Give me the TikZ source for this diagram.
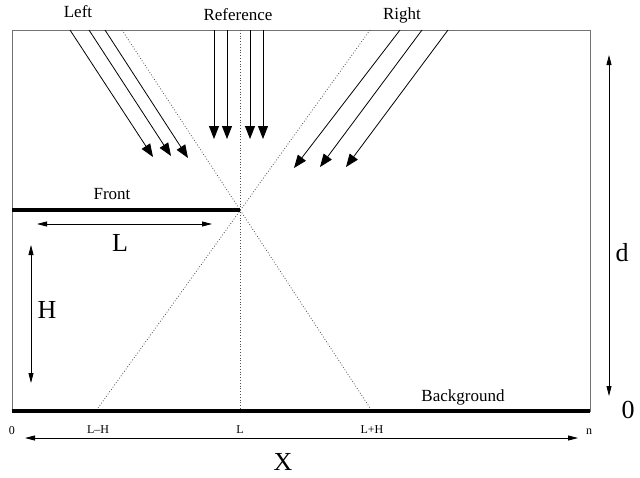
\documentclass[tikz,border=0pt]{standalone}
\usepackage{fontspec}
\setmainfont{Liberation Serif}
\usetikzlibrary{arrows.meta}
\begin{document}
\begin{tikzpicture}[x=1pt, y=-1pt,
                    ray/.style={-{Triangle[length=13pt,width=10pt]}, line width=0.8pt},
                    dim/.style={{Triangle[length=10pt,width=5pt]}-{Triangle[length=10pt,width=5pt]}, line width=0.8pt},
                    wall/.style={line width=4pt},
                    guide/.style={dotted, line width=0.8pt, black!70},
                    lbl/.style={inner sep=0pt, font=\fontsize{17}{20}\selectfont},
                    big/.style={inner sep=0pt, font=\fontsize{26}{30}\selectfont},
                    tick/.style={inner sep=0pt, font=\fontsize{12}{14}\selectfont}]
\useasboundingbox (0,0) rectangle (640,477);
\draw[black!55, line width=1pt] (12,30) rectangle (590,411);
\coordinate (c) at (240,210);
\coordinate (f0) at (12,210);
\coordinate (b0) at (12,411);
\coordinate (b1) at (590,411);
% guides
\coordinate (g0) at (240,30);
\coordinate (g1) at (240,411);
\coordinate (gl0) at (122,30);
\coordinate (gl1) at (370,408);
\coordinate (gr0) at (370,30);
\coordinate (gr1) at (98,408);
\draw[guide] (g0) -- (g1);
\draw[guide] (gl0) -- (gl1);
\draw[guide] (gr0) -- (gr1);
% walls
\draw[wall] (f0) -- (c);
\draw[wall] (b0) -- (b1);
% rays
\foreach \sx/\ex/\ey [count=\i] in {70/153/157, 89/171/156, 105/188/158}
  {\coordinate (ls\i) at (\sx,30);
   \coordinate (le\i) at (\ex,\ey);
   \draw[ray] (ls\i) -- (le\i);}
\foreach \sx [count=\i] in {214,227,250,263}
  {\coordinate (ms\i) at (\sx,30);
   \coordinate (me\i) at (\sx,139);
   \draw[ray] (ms\i) -- (me\i);}
\foreach \sx/\ex/\ey [count=\i] in {400/294/168, 422/320/167, 448/346/167}
  {\coordinate (rs\i) at (\sx,30);
   \coordinate (re\i) at (\ex,\ey);
   \draw[ray] (rs\i) -- (re\i);}
% labels
\node[lbl] (left) at (78,12) {Left};
\node[lbl] (ref) at (238,15) {Reference};
\node[lbl] (right) at (402,15) {Right};
\node[lbl] (front) at (112,194) {Front};
\node[lbl] (back) at (463,397) {Background};
% dimensions
\coordinate (la) at (37,224);
\coordinate (lb) at (212,224);
\draw[dim] (la) -- (lb);
\node[big] (lL) at (120,243) {L};
\coordinate (ha) at (31,245);
\coordinate (hb) at (31,383);
\draw[dim] (ha) -- (hb);
\node[big] (lH) at (47,310) {H};
\coordinate (da) at (609,55);
\coordinate (db) at (609,396);
\draw[dim] (da) -- (db);
\node[big] (ld) at (622,253) {d};
\node[big] (lz) at (628,410) {0};
\coordinate (xa) at (25,438);
\coordinate (xb) at (578,438);
\draw[dim] (xa) -- (xb);
\node[big] (lX) at (283,462) {X};
\node[tick] (t0) at (12,431) {0};
\node[tick] (tlh) at (98,430) {L--H};
\node[tick] (tl) at (240,430) {L};
\node[tick] (tlph) at (372,430) {L+H};
\node[tick] (tn) at (589,432) {n};
\end{tikzpicture}
\end{document}
